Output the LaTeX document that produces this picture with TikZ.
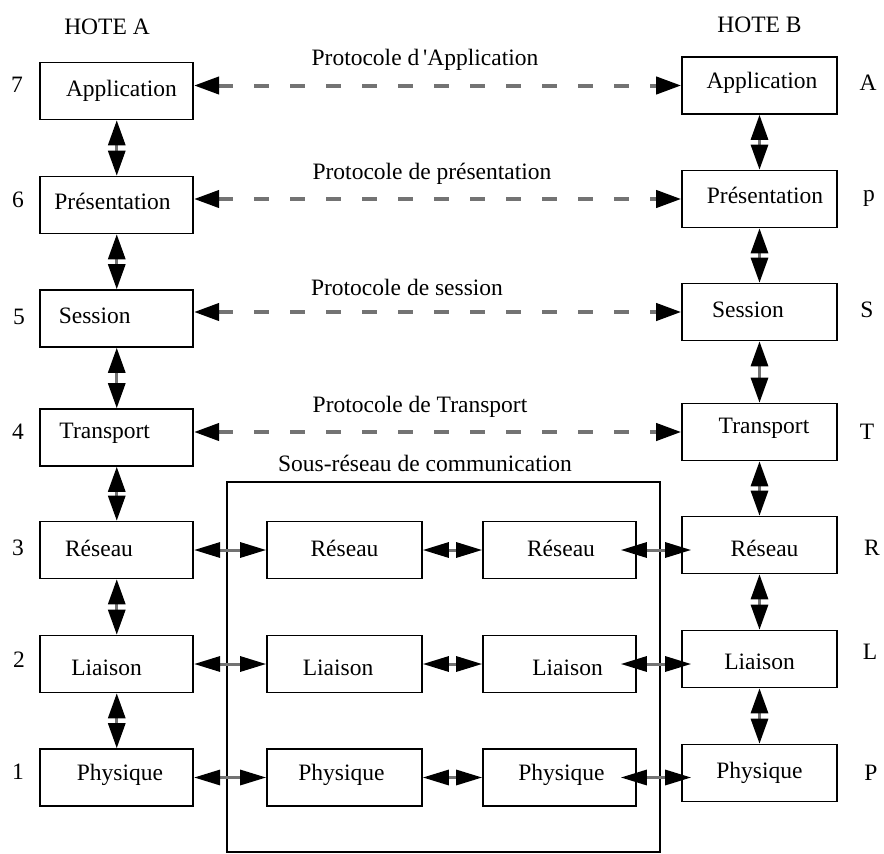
\documentclass[tikz,border=0pt]{standalone}
\usepackage{fontspec}
\setmainfont{Liberation Serif}
\usetikzlibrary{arrows.meta}
\begin{document}
\begin{tikzpicture}[x=1pt,y=-1pt,
  every node/.style={font=\fontsize{23.5}{26}\selectfont, text=black},
  layer/.style={draw=black, line width=1.6pt, minimum width=153pt, minimum height=57pt, inner sep=0pt},
  tag/.style={inner sep=0pt},
  tipA/.tip={Triangle[length=25pt,width=17pt,color=black,fill=black]},
  tipB/.tip={Triangle[length=26pt,width=15pt,color=black,fill=black]},
  link/.style={draw=black!55, line width=3pt, tipA-tipA},
  hop/.style={draw=black!55, line width=3pt, tipB-tipB},
  peer/.style={draw=black!55, line width=4pt, dash pattern=on 15pt off 21pt, tipA-tipA}]
\useasboundingbox (0,0) rectangle (884,854);

% host A stack
\node[layer, label={[tag,xshift=4.75pt]center:Application}]    (la) at (116.75,91)   {};
\node[layer, label={[tag,xshift=-4.25pt,yshift=4pt]center:Présentation}] (lp) at (116.75,205) {};
\node[layer, label={[tag,xshift=-22pt,yshift=2.5pt]center:Session}]   (ls) at (116.75,318.5) {};
\node[layer, label={[tag,xshift=-12pt,yshift=4.5pt]center:Transport}] (lt) at (116.75,437.5) {};
\node[layer, label={[tag,xshift=-17.75pt,yshift=2pt]center:Réseau}]   (lr) at (116.75,550)   {};
\node[layer, label={[tag,xshift=-10.25pt,yshift=-4pt]center:Liaison}] (ll) at (116.75,664)   {};
\node[layer, label={[tag,xshift=3.25pt,yshift=2.5pt]center:Physique}] (lh) at (116.75,777.5) {};

% host B stack
\node[layer, minimum width=155pt, label={[tag,xshift=2.5pt,yshift=2.5pt]center:Application}] (ra) at (759.5,85.5) {};
\node[layer, minimum width=155pt, label={[tag,xshift=5.5pt,yshift=4pt]center:Présentation}]  (rp) at (759.5,199)  {};
\node[layer, minimum width=155pt, label={[tag,xshift=-11.5pt,yshift=2pt]center:Session}]     (rs) at (759.5,312)  {};
\node[layer, minimum width=155pt, label={[tag,xshift=4.5pt,yshift=4pt]center:Transport}]     (rt) at (759.5,432)  {};
\node[layer, minimum width=155pt, label={[tag,xshift=5pt,yshift=-3pt]center:Réseau}]         (rr) at (759.5,545)  {};
\node[layer, minimum width=155pt, label={[tag,yshift=-3pt]center:Liaison}]                  (rl) at (759.5,659)  {};
\node[layer, minimum width=155pt, label={[tag]center:Physique}]                             (rh) at (759.5,773)  {};

% communication subnet
\node[draw=black, line width=1.6pt, minimum width=433pt, minimum height=370pt, inner sep=0pt] (sub) at (443.5,667) {};
\node[tag] (subtitle) at (425,463) {Sous-réseau de communication};

\node[layer, minimum width=155pt, label={[tag,yshift=2pt]center:Réseau}]                 (m1r) at (344.5,550)   {};
\node[layer, minimum width=155pt, label={[tag,xshift=-6.5pt,yshift=-4pt]center:Liaison}] (m1l) at (344.5,664)   {};
\node[layer, minimum width=155pt, label={[tag,xshift=-3pt,yshift=2.5pt]center:Physique}] (m1h) at (344.5,777.5) {};
\node[layer, label={[tag,xshift=1.5pt,yshift=2pt]center:Réseau}]                         (m2r) at (559.5,550)   {};
\node[layer, label={[tag,xshift=8pt,yshift=-4pt]center:Liaison}]                         (m2l) at (559.5,664)   {};
\node[layer, label={[tag,xshift=2pt,yshift=2.5pt]center:Physique}]                       (m2h) at (559.5,777.5) {};

% headings and layer indices
\node[tag] (hA) at (107,27)   {HOTE A};
\node[tag] (hB) at (759.5,25) {HOTE B};
\node[tag] (n7) at (17,85)  {7};
\node[tag] (n6) at (18,200) {6};
\node[tag] (n5) at (19,317) {5};
\node[tag] (n4) at (18,432) {4};
\node[tag] (n3) at (18,548) {3};
\node[tag] (n2) at (19,660) {2};
\node[tag] (n1) at (18,772) {1};
\node[tag] (cA) at (868,83)  {A};
\node[tag] (cP) at (869,198) {p};
\node[tag] (cS) at (867,310) {S};
\node[tag] (cT) at (867,432) {T};
\node[tag] (cR) at (872,548) {R};
\node[tag] (cL) at (870,652) {L};
\node[tag] (cH) at (871,773) {P};

% peer protocols
\node[tag] (pa) at (425,60)  {Protocole d\,\textquotesingle Application};
\node[tag] (pp) at (432,174) {Protocole de présentation};
\node[tag] (ps) at (407,287) {Protocole de session};
\node[tag] (pt) at (420,407) {Protocole de Transport};
\draw[peer] (la.east |- ra.west) -- (ra.west);
\draw[peer] (lp.east |- rp.west) -- (rp.west);
\draw[peer] (ls.east |- rs.west) -- (rs.west);
\draw[peer] (lt.east |- rt.west) -- (rt.west);

% interfaces inside each host
\foreach \a/\b in {la/lp, lp/ls, ls/lt, lt/lr, lr/ll, ll/lh, ra/rp, rp/rs, rs/rt, rt/rr, rr/rl, rl/rh}
  \draw[link] (\a.south) -- (\b.north);

% hop-by-hop links across the subnet
\foreach \a/\b/\c/\d in {lr/m1r/m2r/rr, ll/m1l/m2l/rl, lh/m1h/m2h/rh} {
  \draw[hop] (\a.east) -- (\b.west);
  \draw[hop] (\b.east) -- (\c.west);
  \draw[hop, shorten <=-16pt, shorten >=-10pt] (\c.east) -- (\d.west |- \c.east);
}
\end{tikzpicture}
\end{document}
